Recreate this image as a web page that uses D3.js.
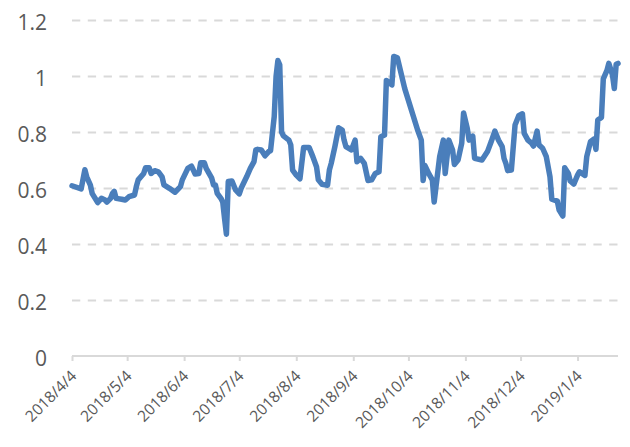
<!DOCTYPE html>
<html>
<head>
<meta charset="utf-8">
<script src="https://cdn.jsdelivr.net/npm/d3@7"></script>
<style>
  html, body { margin: 0; padding: 0; background: #fff; }
  svg { display: block; }
</style>
</head>
<body>
<svg id="chart" width="630" height="447"></svg>
<script>
const dates = [
  "2018-04-04","2018-04-09","2018-04-11","2018-04-12","2018-04-14","2018-04-15","2018-04-18","2018-04-20",
  "2018-04-22","2018-04-23","2018-04-25","2018-04-26","2018-04-27","2018-04-28","2018-05-01","2018-05-03",
  "2018-05-05","2018-05-08","2018-05-09","2018-05-10","2018-05-13","2018-05-14","2018-05-16","2018-05-17",
  "2018-05-19","2018-05-21","2018-05-23","2018-05-24","2018-05-27","2018-05-30","2018-06-02","2018-06-03",
  "2018-06-06","2018-06-08","2018-06-10","2018-06-12","2018-06-13","2018-06-15","2018-06-16","2018-06-19",
  "2018-06-20","2018-06-21","2018-06-22","2018-06-24","2018-06-25","2018-06-26","2018-06-27","2018-06-28",
  "2018-06-30","2018-07-02","2018-07-04","2018-07-05","2018-07-08","2018-07-10","2018-07-12","2018-07-13",
  "2018-07-14","2018-07-16","2018-07-18","2018-07-20","2018-07-21","2018-07-23","2018-07-24","2018-07-25",
  "2018-07-26","2018-07-27","2018-07-28","2018-07-31","2018-08-01","2018-08-02","2018-08-04","2018-08-06",
  "2018-08-08","2018-08-11","2018-08-13","2018-08-15","2018-08-16","2018-08-18","2018-08-21","2018-08-22",
  "2018-08-23","2018-08-25","2018-08-27","2018-08-29","2018-08-30","2018-08-31","2018-09-03","2018-09-05",
  "2018-09-06","2018-09-08","2018-09-10","2018-09-12","2018-09-14","2018-09-16","2018-09-18","2018-09-19",
  "2018-09-21","2018-09-22","2018-09-25","2018-09-26","2018-09-28","2018-10-02","2018-10-09","2018-10-11",
  "2018-10-12","2018-10-13","2018-10-15","2018-10-17","2018-10-18","2018-10-19","2018-10-21","2018-10-23",
  "2018-10-24","2018-10-26","2018-10-28","2018-10-29","2018-10-31","2018-11-02","2018-11-03","2018-11-05",
  "2018-11-06","2018-11-08","2018-11-09","2018-11-13","2018-11-16","2018-11-18","2018-11-20","2018-11-22",
  "2018-11-24","2018-11-25","2018-11-26","2018-11-27","2018-11-29","2018-12-01","2018-12-03","2018-12-05",
  "2018-12-06","2018-12-08","2018-12-10","2018-12-11","2018-12-13","2018-12-14","2018-12-16","2018-12-18",
  "2018-12-20","2018-12-21","2018-12-24","2018-12-25","2018-12-27","2018-12-28","2018-12-30","2018-12-31",
  "2019-01-02","2019-01-04","2019-01-05","2019-01-08","2019-01-09","2019-01-11","2019-01-13","2019-01-14",
  "2019-01-15","2019-01-17","2019-01-18","2019-01-20","2019-01-21","2019-01-23","2019-01-24","2019-01-25",
  "2019-01-26"
];
const values = [
  0.608,0.597,0.665,0.64,0.61,0.58,0.548,0.563,
  0.557,0.55,0.563,0.58,0.588,0.563,0.56,0.557,
  0.569,0.575,0.605,0.629,0.652,0.672,0.672,0.652,
  0.662,0.658,0.64,0.611,0.599,0.585,0.605,0.629,
  0.67,0.678,0.65,0.652,0.69,0.69,0.67,0.635,
  0.611,0.611,0.581,0.563,0.55,0.49,0.435,0.623,
  0.625,0.593,0.579,0.599,0.64,0.67,0.694,0.736,
  0.738,0.736,0.715,0.73,0.733,0.855,0.998,1.055,
  1.04,0.80,0.786,0.771,0.754,0.664,0.646,0.633,
  0.745,0.745,0.712,0.676,0.629,0.613,0.61,0.664,
  0.688,0.748,0.815,0.807,0.771,0.748,0.736,0.771,
  0.694,0.706,0.688,0.627,0.629,0.652,0.658,0.783,
  0.789,0.984,0.968,1.07,1.065,0.955,0.807,0.771,
  0.627,0.68,0.652,0.629,0.55,0.605,0.712,0.771,
  0.652,0.771,0.736,0.684,0.70,0.76,0.868,0.813,
  0.771,0.785,0.706,0.70,0.73,0.765,0.803,0.771,
  0.748,0.706,0.688,0.662,0.664,0.825,0.858,0.865,
  0.795,0.771,0.76,0.75,0.803,0.754,0.742,0.712,
  0.64,0.56,0.553,0.521,0.50,0.672,0.652,0.625,
  0.614,0.646,0.658,0.645,0.712,0.765,0.775,0.738,
  0.843,0.852,0.99,1.02,1.045,1.004,0.955,1.042,
  1.045
];
const yTicks = [0, 0.2, 0.4, 0.6, 0.8, 1.0, 1.2];
const yTickLabels = ["0", "0.2", "0.4", "0.6", "0.8", "1", "1.2"];
const xTickLabels = ["2018/4/4","2018/5/4","2018/6/4","2018/7/4","2018/8/4","2018/9/4","2018/10/4","2018/11/4","2018/12/4","2019/1/4"];
const xDomain = ["2018-04-04", "2019-01-26"];

const parseISO = d3.timeParse("%Y-%m-%d");
const parseTick = d3.timeParse("%Y/%m/%d");
const data = dates.map((d, i) => ({ date: parseISO(d), value: values[i] }));
const tickDates = xTickLabels.map(parseTick);

const svg = d3.select("#chart");
const mLeft = 72, mRight = 618, mTop = 20, mBottom = 356;
const x = d3.scaleTime().domain(xDomain.map(parseISO)).range([mLeft, mRight]);
const y = d3.scaleLinear().domain([0, 1.2]).range([mBottom, mTop]);

const labelColor = "#595959";
const font = "'Open Sans', 'Liberation Sans', sans-serif";

// Gridlines
const grid = svg.append("g").attr("transform", `translate(${mLeft},0)`)
  .call(d3.axisLeft(y).tickValues(yTicks.filter(v => v > 0)).tickSize(-(mRight - mLeft)).tickFormat(""));
grid.select(".domain").remove();
grid.selectAll("line")
  .attr("stroke", "#d9d9d9").attr("stroke-width", 2).attr("stroke-dasharray", "8.3,7.5");

// Y labels
const yAxis = svg.append("g").attr("transform", `translate(47,0)`)
  .call(d3.axisLeft(y).tickValues(yTicks).tickSize(0).tickPadding(0)
    .tickFormat((d, i) => yTickLabels[i]));
yAxis.select(".domain").remove();
yAxis.selectAll("text")
  .attr("fill", labelColor).attr("font-family", font).attr("font-size", 21)
  .attr("dy", "0.45em");

// X axis
const xAxis = svg.append("g").attr("transform", `translate(0,${mBottom})`)
  .call(d3.axisBottom(x).tickValues(tickDates).tickSize(5).tickSizeOuter(0)
    .tickFormat((d, i) => xTickLabels[i]));
xAxis.select(".domain").attr("stroke", "#d9d9d9").attr("stroke-width", 2)
  .attr("d", `M${mLeft},0H${mRight}`);
xAxis.selectAll(".tick line").attr("stroke", "#d9d9d9").attr("stroke-width", 2);
xAxis.selectAll(".tick text")
  .attr("fill", labelColor).attr("font-family", font).attr("font-size", 15.5)
  .attr("text-anchor", "end")
  .attr("y", 0).attr("dy", 0)
  .attr("transform", "translate(5,21) rotate(-45)");

// Line
const line = d3.line().x(d => x(d.date)).y(d => y(d.value));
svg.append("path").datum(data)
  .attr("fill", "none").attr("stroke", "#4a7ebb").attr("stroke-width", 5.5)
  .attr("stroke-linejoin", "round").attr("stroke-linecap", "round")
  .attr("d", line);
</script>
</body>
</html>
